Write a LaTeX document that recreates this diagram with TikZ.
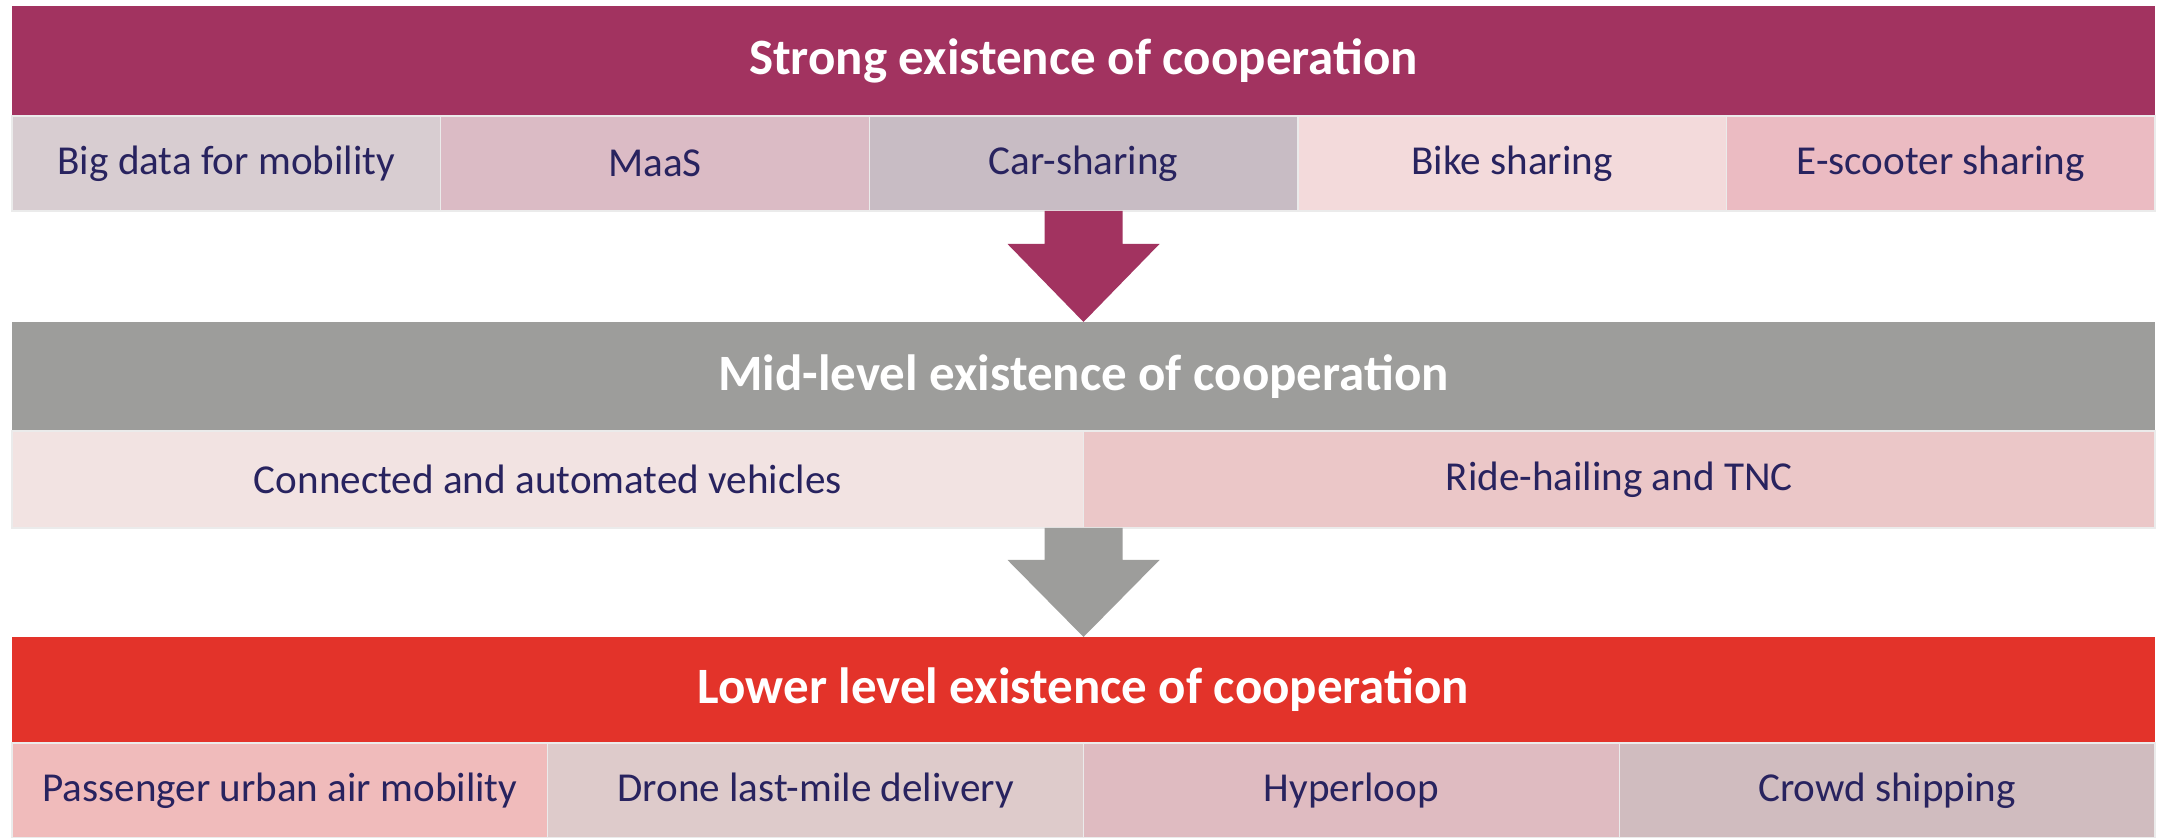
\documentclass[tikz,border=0pt]{standalone}
\usepackage{fontspec}
\setmainfont{Carlito}
\usetikzlibrary{positioning}

\definecolor{plum}{RGB}{162,51,96}
\definecolor{midgray}{RGB}{157,157,155}
\definecolor{lowred}{RGB}{227,51,42}
\definecolor{navy}{RGB}{40,35,95}
\definecolor{cBig}{RGB}{216,205,209}
\definecolor{cMaas}{RGB}{219,187,197}
\definecolor{cCar}{RGB}{200,188,196}
\definecolor{cBike}{RGB}{243,218,219}
\definecolor{cScoot}{RGB}{235,187,194}
\definecolor{cCav}{RGB}{242,227,226}
\definecolor{cRide}{RGB}{235,199,200}
\definecolor{cPax}{RGB}{240,187,187}
\definecolor{cDrone}{RGB}{222,203,203}
\definecolor{cHyper}{RGB}{223,187,193}
\definecolor{cCrowd}{RGB}{208,188,191}

\begin{document}
\begin{tikzpicture}[
  bar/.style={rectangle, anchor=north west, inner sep=0pt, outer sep=0pt,
    minimum width=21.43cm, minimum height=1.1cm, text=white,
    font=\fontsize{14.5}{16}\selectfont\bfseries},
  cell/.style={rectangle, inner sep=0pt, outer sep=0pt, draw=black!8,
    line width=0.4pt, minimum height=0.95cm, text=navy,
    font=\fontsize{11.7}{14}\selectfont},
  five/.style={cell, minimum width=4.286cm},
  two/.style={cell, minimum width=10.715cm},
  four/.style={cell, minimum width=5.3575cm}
]
\useasboundingbox (0,0) rectangle (21.66,8.38);

\node[bar, fill=plum] (strong) at (0.12,8.32) {Strong existence of cooperation};
\node[five, fill=cBig, anchor=north west] (bigdata) at (strong.south west) {Big data for mobility};
\node[five, fill=cMaas, right=0pt of bigdata] (maas) {MaaS};
\node[five, fill=cCar, right=0pt of maas] (carsh) {Car-sharing};
\node[five, fill=cBike, right=0pt of carsh] (bikesh) {Bike sharing};
\node[five, fill=cScoot, right=0pt of bikesh] (scoot) {E-scooter sharing};

\node[bar, fill=midgray, minimum height=1.09cm] (mid) at (0.12,5.16) {Mid-level existence of cooperation};
\node[two, fill=cCav, anchor=north west, minimum height=0.97cm] (cav) at (mid.south west) {Connected and automated vehicles};
\node[two, fill=cRide, right=0pt of cav, minimum height=0.97cm] (ride) {Ride-hailing and TNC};

\node[bar, fill=lowred, minimum height=1.06cm] (low) at (0.12,2.01) {Lower level existence of cooperation};
\node[four, fill=cPax, anchor=north west] (pax) at (low.south west) {Passenger urban air mobility};
\node[four, fill=cDrone, right=0pt of pax] (drone) {Drone last-mile delivery};
\node[four, fill=cHyper, right=0pt of drone] (hyper) {Hyperloop};
\node[four, fill=cCrowd, right=0pt of hyper] (crowd) {Crowd shipping};

\fill[plum] ([xshift=-3.9mm]carsh.south) |- ([xshift=-7.6mm,yshift=7.8mm]mid.north)
  -- (mid.north) -- ([xshift=7.6mm,yshift=7.8mm]mid.north) -| ([xshift=3.9mm]carsh.south) -- cycle;
\fill[midgray] ([xshift=-3.9mm]cav.south east) |- ([xshift=-7.6mm,yshift=7.7mm]low.north)
  -- (low.north) -- ([xshift=7.6mm,yshift=7.7mm]low.north) -| ([xshift=3.9mm]cav.south east) -- cycle;

\end{tikzpicture}
\end{document}
